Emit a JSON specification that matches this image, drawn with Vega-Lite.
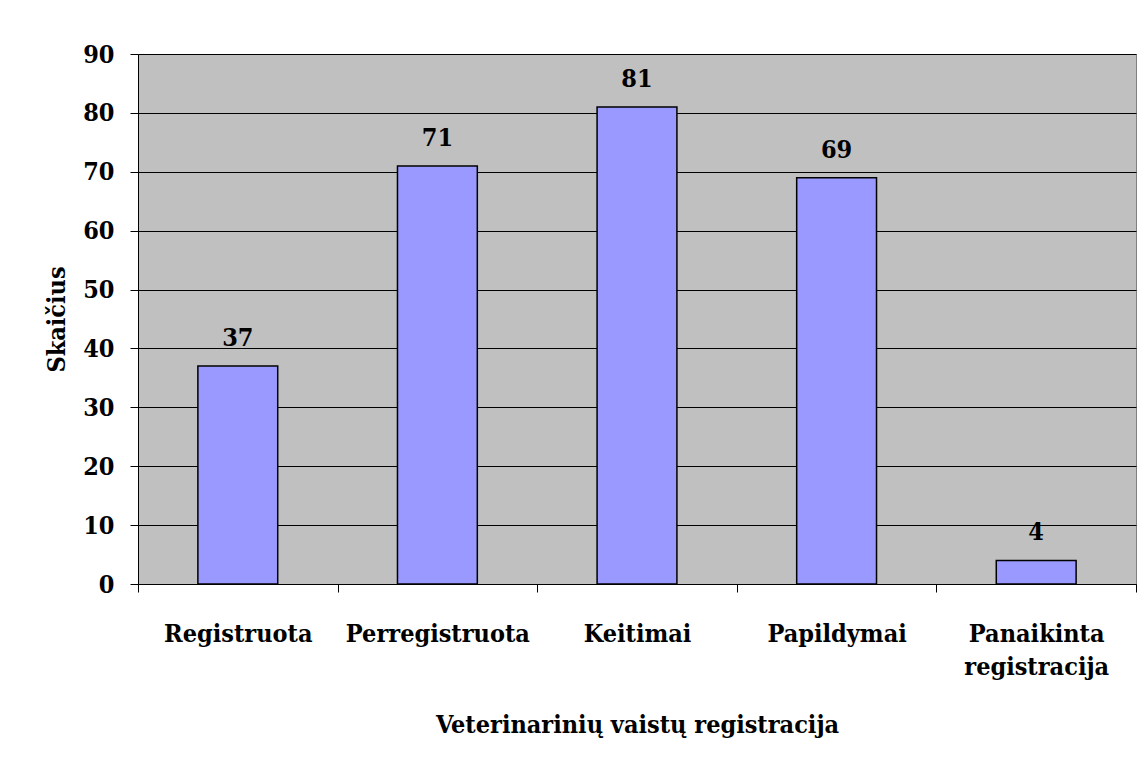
{
  "$schema": "https://vega.github.io/schema/vega-lite/v6.json",
  "width": 998,
  "height": 530,
  "autosize": {"type": "none"},
  "padding": {"left": 138, "top": 54, "right": 10, "bottom": 185},
  "background": "white",
  "data": {
    "values": [
      {"kategorija": "Registruota", "skaicius": 37},
      {"kategorija": "Perregistruota", "skaicius": 71},
      {"kategorija": "Keitimai", "skaicius": 81},
      {"kategorija": "Papildymai", "skaicius": 69},
      {"kategorija": "Panaikinta registracija", "skaicius": 4}
    ]
  },
  "config": {
    "view": {"fill": "#C0C0C0", "stroke": "#808080", "strokeWidth": 1},
    "axis": {
      "labelFont": "DejaVu Serif Condensed",
      "titleFont": "DejaVu Serif Condensed",
      "labelFontWeight": "bold",
      "titleFontWeight": "bold",
      "labelColor": "black",
      "titleColor": "black",
      "domainColor": "black",
      "tickColor": "black",
      "gridColor": "black",
      "gridOpacity": 1,
      "labelLimit": 400
    }
  },
  "encoding": {
    "x": {
      "field": "kategorija",
      "type": "nominal",
      "sort": null,
      "scale": {"paddingInner": 0, "paddingOuter": 0},
      "axis": {
        "title": "Veterinarinių vaistų registracija",
        "titleFontSize": 25,
        "titlePadding": 33,
        "labelFontSize": 25,
        "labelAngle": 0,
        "labelPadding": 29,
        "labelBaseline": "top",
        "labelLineHeight": 33,
        "labelExpr": "datum.label == 'Panaikinta registracija' ? ['Panaikinta', 'registracija'] : datum.label",
        "tickBand": "extent",
        "tickSize": 8,
        "domainWidth": 1,
        "grid": false
      }
    },
    "y": {
      "field": "skaicius",
      "type": "quantitative",
      "scale": {"domain": [0, 90], "nice": false},
      "axis": {
        "title": "Skaičius",
        "titleFontSize": 25,
        "titlePadding": 13,
        "labelFontSize": 25,
        "labelPadding": 16,
        "values": [0, 10, 20, 30, 40, 50, 60, 70, 80, 90],
        "tickSize": 8,
        "grid": true,
        "gridWidth": 1
      }
    }
  },
  "layer": [
    {
      "mark": {"type": "bar", "color": "#9999FF", "stroke": "black", "strokeWidth": 1.5, "width": {"band": 0.4}}
    },
    {
      "mark": {"type": "text", "font": "DejaVu Serif Condensed", "fontSize": 25, "fontWeight": "bold", "baseline": "bottom", "dy": -15, "color": "black"},
      "encoding": {"text": {"field": "skaicius", "type": "quantitative"}}
    }
  ]
}
